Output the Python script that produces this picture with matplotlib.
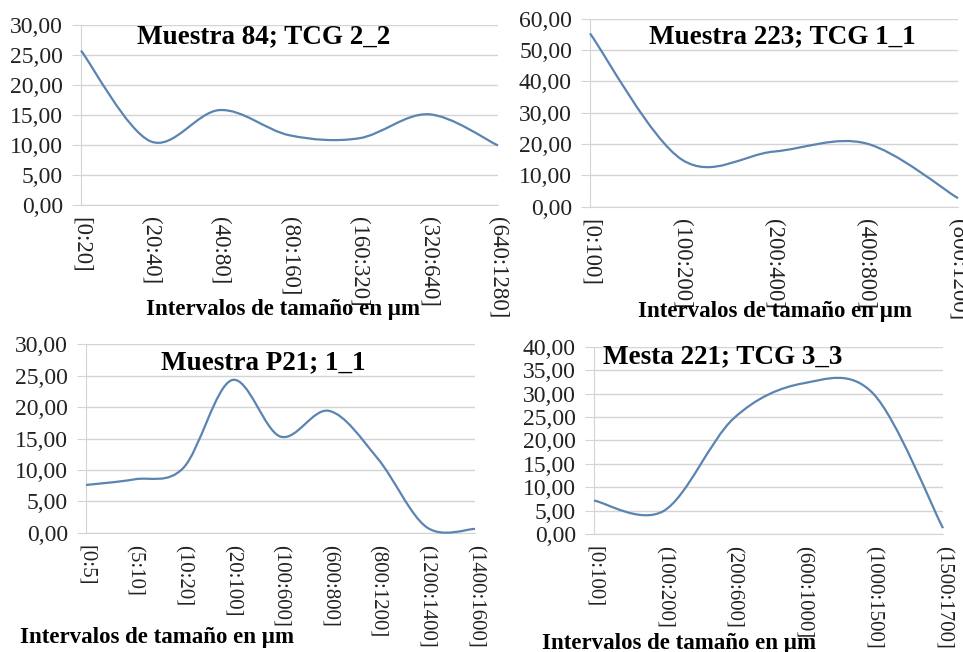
import matplotlib
matplotlib.use("Agg")
import matplotlib.pyplot as plt
from matplotlib.path import Path
from matplotlib.patches import PathPatch
from matplotlib.ticker import FuncFormatter
import numpy as np

W, H = 963, 652

# ---- data ----
cats1 = ["[0:20]", "(20:40]", "(40:80]", "(80:160]", "(160:320]", "(320:640]", "(640:1280]"]
vals1 = [25.7, 10.6, 15.8, 11.6, 11.1, 15.1, 9.9]
title1 = "Muestra 84; TCG 2_2"

cats2 = ["[0:100]", "(100:200]", "(200:400]", "(400:800]", "(800:1200]"]
vals2 = [55.3, 15.0, 17.6, 20.2, 2.7]
title2 = "Muestra 223; TCG 1_1"

cats3 = ["[0:5]", "(5:10]", "(10:20]", "(20:100]", "(100:600]", "(600:800]",
         "(800:1200]", "(1200:1400]", "(1400:1600]"]
vals3 = [7.6, 8.5, 10.3, 24.3, 15.3, 19.4, 11.8, 0.9, 0.6]
title3 = "Muestra P21; 1_1"

cats4 = ["[0:100]", "(100:200]", "(200:600]", "(600:1000]", "(1000:1500]", "(1500:1700]"]
vals4 = [7.2, 5.0, 24.7, 32.2, 30.0, 1.3]
title4 = "Mesta 221; TCG 3_3"

xlabel = "Intervalos de tamaño en µm"

SERIF = ["Liberation Serif", "DejaVu Serif"]
LINE_C = "#5b84b1"
GRID_C = "#d4d4d4"


def smooth_path(y):
    x = np.arange(len(y), dtype=float)
    y = np.asarray(y, dtype=float)
    P = np.column_stack([x, y])
    n = len(P)
    verts = [P[0]]
    codes = [Path.MOVETO]
    for i in range(n - 1):
        p_prev = P[i - 1] if i > 0 else P[i]
        p_next2 = P[i + 2] if i + 2 < n else P[i + 1]
        c1 = P[i] + (P[i + 1] - p_prev) / 6.0
        c2 = P[i + 1] - (p_next2 - P[i]) / 6.0
        verts += [c1, c2, P[i + 1]]
        codes += [Path.CURVE4] * 3
    return Path(verts, codes)


def panel(fig, rect_px, cats, vals, ymax, ystep, title, title_xy, xlab_xy, xfs):
    l, t, r, b = rect_px
    ax = fig.add_axes([l / W, 1 - b / H, (r - l) / W, (b - t) / H])
    ax.set_xlim(0, len(cats) - 1)
    ax.set_ylim(0, ymax)
    patch = PathPatch(smooth_path(vals), facecolor="none", edgecolor=LINE_C,
                      lw=1.6, clip_on=False, zorder=3)
    ax.add_patch(patch)
    ax.set_yticks(np.arange(0, ymax + 0.01, ystep))
    ax.yaxis.set_major_formatter(FuncFormatter(lambda v, p: f"{v:.2f}".replace(".", ",")))
    ax.set_xticks(range(len(cats)))
    ax.set_xticklabels(cats, rotation=270, fontsize=xfs, family=SERIF, va="top", ha="center")
    for lab in ax.get_yticklabels():
        lab.set_fontfamily(SERIF)
        lab.set_fontsize(17)
    ax.tick_params(axis="y", length=6.5, color=GRID_C, pad=6.5, labelcolor="#222222")
    ax.tick_params(axis="x", length=0, pad=8.5, labelcolor="#222222")
    ax.grid(axis="y", color=GRID_C, lw=1)
    ax.set_axisbelow(True)
    for s in ["top", "right"]:
        ax.spines[s].set_visible(False)
    ax.spines["left"].set_color(GRID_C)
    ax.spines["bottom"].set_color(GRID_C)
    ax.set_facecolor("none")
    fig.text(title_xy[0] / W, 1 - title_xy[1] / H, title, family=SERIF, fontsize=19.5,
             fontweight="bold", ha="center", va="center")
    fig.text(xlab_xy[0] / W, 1 - xlab_xy[1] / H, xlabel, family=SERIF, fontsize=16.5,
             fontweight="bold", ha="center", va="center")
    return ax


fig = plt.figure(figsize=(W / 100, H / 100), dpi=100)

panel(fig, (81, 24.7, 498, 205), cats1, vals1, 30, 5, title1, (264, 37), (283, 309), 16.5)
panel(fig, (590, 18.7, 958, 206.7), cats2, vals2, 60, 10, title2, (782, 37), (775, 311), 16.5)
panel(fig, (86, 344.3, 475, 532.7), cats3, vals3, 30, 5, title3, (263, 363), (157, 637), 15)
panel(fig, (594, 346.7, 943, 534.3), cats4, vals4, 40, 5, title4, (723, 357), (679, 643), 15)

fig.savefig("out.png", dpi=100)
